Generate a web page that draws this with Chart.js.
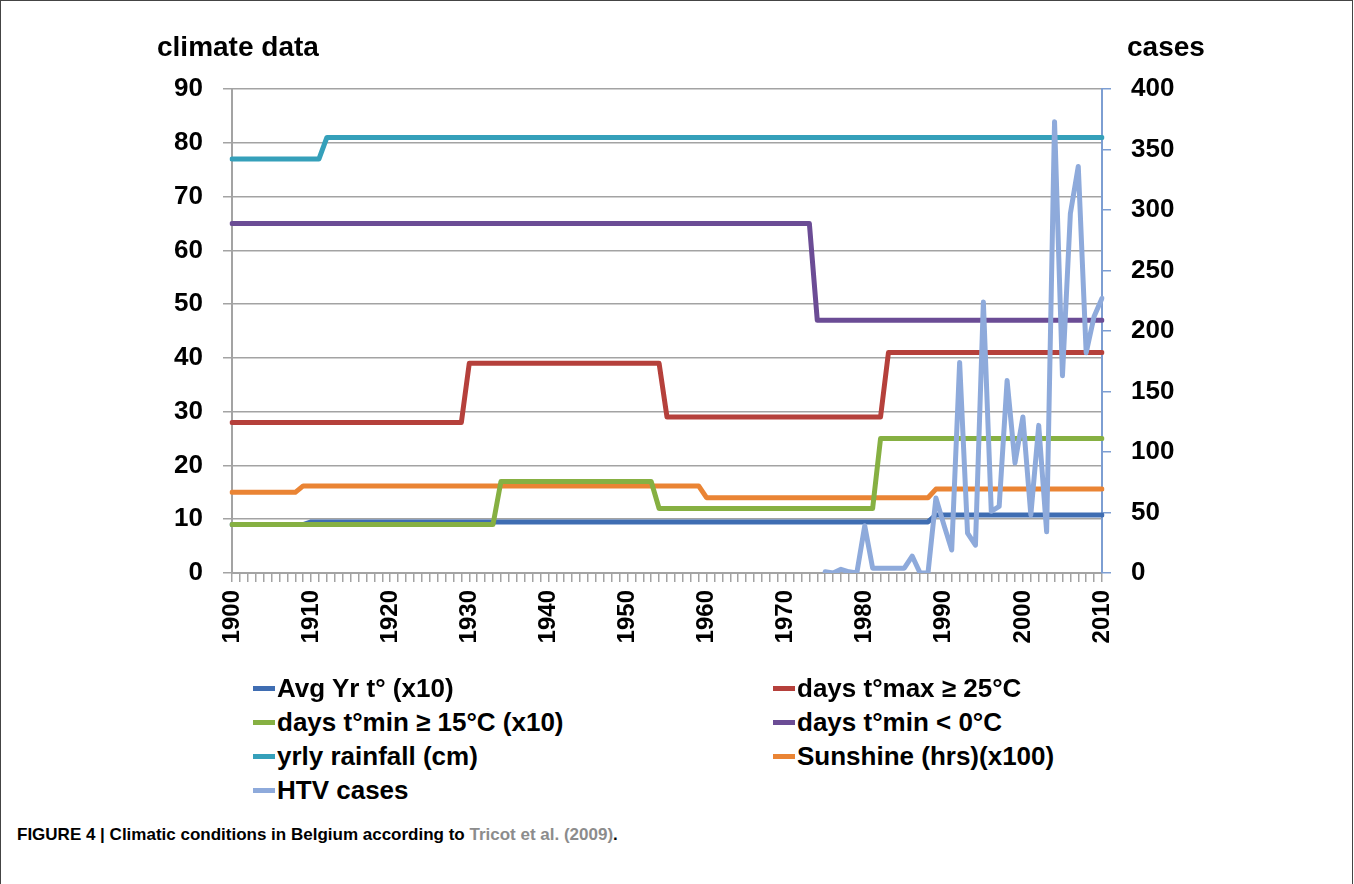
<!DOCTYPE html>
<html lang="en">
<head>
    <meta charset="UTF-8">
    <title>Climatic conditions in Belgium</title>
    <style>
        body {
            margin: 0;
            width: 1354px;
            height: 884px;
            overflow: hidden;
            background: white;
            font-family: Arial, "Liberation Sans", sans-serif;
            position: relative;
        }

        #frame {
            position: absolute;
            left: 0;
            top: 0;
            width: 1351px;
            height: 884px;
            border-left: 1px solid #444;
            border-top: 1px solid #444;
            border-right: 1px solid #444;
        }

        #chart {
            position: absolute;
            left: 0;
            top: 0;
        }

        .axis-title {
            position: absolute;
            top: 31px;
            font-size: 28px;
            font-weight: bold;
            color: #000;
        }

        .legend-item {
            position: absolute;
            font-size: 26px;
            font-weight: bold;
            line-height: 30px;
            white-space: nowrap;
            display: flex;
            align-items: center;
        }

        .legend-item span.swatch {
            display: inline-block;
            width: 22px;
            height: 5px;
            margin-right: 2px;
        }

        #caption {
            position: absolute;
            left: 17px;
            top: 825px;
            font-size: 17px;
            font-weight: bold;
            white-space: nowrap;
        }

        #caption .ref {
            color: #8c8c8c;
        }
    </style>
</head>
<body>
    <div id="frame"></div>
    <canvas id="chart" width="1354" height="680"></canvas>
    <div class="axis-title" style="left:157px">climate data</div>
    <div class="axis-title" style="left:1127px">cases</div>
    <div id="legend"></div>
    <div id="caption">FIGURE 4 | Climatic conditions in Belgium according to <span class="ref">Tricot et al. (2009)</span>.</div>

    <script src="https://cdn.jsdelivr.net/npm/chart.js"></script>
    <script>
        const years = Array.from({ length: 111 }, (_, i) => 1900 + i);

        // one row per decade, last row 2000-2010
        const avgTemp = [
            9, 9, 9, 9, 9, 9, 9, 9, 9, 9,
            9.5, 9.5, 9.5, 9.5, 9.5, 9.5, 9.5, 9.5, 9.5, 9.5,
            9.5, 9.5, 9.5, 9.5, 9.5, 9.5, 9.5, 9.5, 9.5, 9.5,
            9.5, 9.5, 9.5, 9.5, 9.5, 9.5, 9.5, 9.5, 9.5, 9.5,
            9.5, 9.5, 9.5, 9.5, 9.5, 9.5, 9.5, 9.5, 9.5, 9.5,
            9.5, 9.5, 9.5, 9.5, 9.5, 9.5, 9.5, 9.5, 9.5, 9.5,
            9.5, 9.5, 9.5, 9.5, 9.5, 9.5, 9.5, 9.5, 9.5, 9.5,
            9.5, 9.5, 9.5, 9.5, 9.5, 9.5, 9.5, 9.5, 9.5, 9.5,
            9.5, 9.5, 9.5, 9.5, 9.5, 9.5, 9.5, 9.5, 9.5, 10.8,
            10.8, 10.8, 10.8, 10.8, 10.8, 10.8, 10.8, 10.8, 10.8, 10.8,
            10.8, 10.8, 10.8, 10.8, 10.8, 10.8, 10.8, 10.8, 10.8, 10.8, 10.8
        ];

        const hotDays = [
            28, 28, 28, 28, 28, 28, 28, 28, 28, 28,
            28, 28, 28, 28, 28, 28, 28, 28, 28, 28,
            28, 28, 28, 28, 28, 28, 28, 28, 28, 28,
            39, 39, 39, 39, 39, 39, 39, 39, 39, 39,
            39, 39, 39, 39, 39, 39, 39, 39, 39, 39,
            39, 39, 39, 39, 39, 29, 29, 29, 29, 29,
            29, 29, 29, 29, 29, 29, 29, 29, 29, 29,
            29, 29, 29, 29, 29, 29, 29, 29, 29, 29,
            29, 29, 29, 41, 41, 41, 41, 41, 41, 41,
            41, 41, 41, 41, 41, 41, 41, 41, 41, 41,
            41, 41, 41, 41, 41, 41, 41, 41, 41, 41, 41
        ];

        const warmNights = [
            9, 9, 9, 9, 9, 9, 9, 9, 9, 9,
            9, 9, 9, 9, 9, 9, 9, 9, 9, 9,
            9, 9, 9, 9, 9, 9, 9, 9, 9, 9,
            9, 9, 9, 9, 17, 17, 17, 17, 17, 17,
            17, 17, 17, 17, 17, 17, 17, 17, 17, 17,
            17, 17, 17, 17, 12, 12, 12, 12, 12, 12,
            12, 12, 12, 12, 12, 12, 12, 12, 12, 12,
            12, 12, 12, 12, 12, 12, 12, 12, 12, 12,
            12, 12, 25, 25, 25, 25, 25, 25, 25, 25,
            25, 25, 25, 25, 25, 25, 25, 25, 25, 25,
            25, 25, 25, 25, 25, 25, 25, 25, 25, 25, 25
        ];

        const frostDays = [
            65, 65, 65, 65, 65, 65, 65, 65, 65, 65,
            65, 65, 65, 65, 65, 65, 65, 65, 65, 65,
            65, 65, 65, 65, 65, 65, 65, 65, 65, 65,
            65, 65, 65, 65, 65, 65, 65, 65, 65, 65,
            65, 65, 65, 65, 65, 65, 65, 65, 65, 65,
            65, 65, 65, 65, 65, 65, 65, 65, 65, 65,
            65, 65, 65, 65, 65, 65, 65, 65, 65, 65,
            65, 65, 65, 65, 47, 47, 47, 47, 47, 47,
            47, 47, 47, 47, 47, 47, 47, 47, 47, 47,
            47, 47, 47, 47, 47, 47, 47, 47, 47, 47,
            47, 47, 47, 47, 47, 47, 47, 47, 47, 47, 47
        ];

        const rainfall = [
            77, 77, 77, 77, 77, 77, 77, 77, 77, 77,
            77, 77, 81, 81, 81, 81, 81, 81, 81, 81,
            81, 81, 81, 81, 81, 81, 81, 81, 81, 81,
            81, 81, 81, 81, 81, 81, 81, 81, 81, 81,
            81, 81, 81, 81, 81, 81, 81, 81, 81, 81,
            81, 81, 81, 81, 81, 81, 81, 81, 81, 81,
            81, 81, 81, 81, 81, 81, 81, 81, 81, 81,
            81, 81, 81, 81, 81, 81, 81, 81, 81, 81,
            81, 81, 81, 81, 81, 81, 81, 81, 81, 81,
            81, 81, 81, 81, 81, 81, 81, 81, 81, 81,
            81, 81, 81, 81, 81, 81, 81, 81, 81, 81, 81
        ];

        const sunshine = [
            15, 15, 15, 15, 15, 15, 15, 15, 15, 16.2,
            16.2, 16.2, 16.2, 16.2, 16.2, 16.2, 16.2, 16.2, 16.2, 16.2,
            16.2, 16.2, 16.2, 16.2, 16.2, 16.2, 16.2, 16.2, 16.2, 16.2,
            16.2, 16.2, 16.2, 16.2, 16.2, 16.2, 16.2, 16.2, 16.2, 16.2,
            16.2, 16.2, 16.2, 16.2, 16.2, 16.2, 16.2, 16.2, 16.2, 16.2,
            16.2, 16.2, 16.2, 16.2, 16.2, 16.2, 16.2, 16.2, 16.2, 16.2,
            14, 14, 14, 14, 14, 14, 14, 14, 14, 14,
            14, 14, 14, 14, 14, 14, 14, 14, 14, 14,
            14, 14, 14, 14, 14, 14, 14, 14, 14, 15.6,
            15.6, 15.6, 15.6, 15.6, 15.6, 15.6, 15.6, 15.6, 15.6, 15.6,
            15.6, 15.6, 15.6, 15.6, 15.6, 15.6, 15.6, 15.6, 15.6, 15.6, 15.6
        ];

        // HTV cases, only reported from 1975
        const htvYears = [
            1975, 1976, 1977, 1978, 1979, 1980, 1981, 1982, 1983, 1984,
            1985, 1986, 1987, 1988, 1989, 1990, 1991, 1992, 1993, 1994,
            1995, 1996, 1997, 1998, 1999, 2000, 2001, 2002, 2003, 2004,
            2005, 2006, 2007, 2008, 2009, 2010
        ];
        const htvCases = [
            1, 0, 3, 1, 0, 39, 4, 4, 4, 4,
            4, 14, 0, 0, 62, 40, 19, 174, 33, 23,
            224, 51, 55, 159, 91, 129, 48, 122, 34, 373,
            163, 297, 336, 182, 212, 227
        ];

        const leftTicks = [0, 10, 20, 30, 40, 50, 60, 70, 80, 90];
        const rightTicks = [0, 50, 100, 150, 200, 250, 300, 350, 400];

        const series = [
            { label: 'Avg Yr t° (x10)', data: avgTemp, color: '#3f6db2', order: 6, col: 0, row: 0 },
            { label: 'days t°max ≥ 25°C', data: hotDays, color: '#b5403b', order: 2, col: 1, row: 0 },
            { label: 'days t°min ≥ 15°C (x10)', data: warmNights, color: '#86b042', order: 1, col: 0, row: 1 },
            { label: 'days t°min < 0°C', data: frostDays, color: '#6b4c95', order: 3, col: 1, row: 1 },
            { label: 'yrly rainfall (cm)', data: rainfall, color: '#35a0ba', order: 4, col: 0, row: 2 },
            { label: 'Sunshine (hrs)(x100)', data: sunshine, color: '#ea8434', order: 5, col: 1, row: 2 }
        ];

        const htvData = years.map(y => {
            const i = htvYears.indexOf(y);
            return i < 0 ? null : htvCases[i];
        });

        const datasets = series.map(s => ({
            label: s.label,
            data: s.data,
            borderColor: s.color,
            backgroundColor: s.color,
            order: s.order,
            yAxisID: 'y'
        }));
        datasets.push({
            label: 'HTV cases',
            data: htvData,
            borderColor: '#8eaadb',
            backgroundColor: '#8eaadb',
            order: 0,
            yAxisID: 'y1'
        });

        // legend as html, two columns like the original
        const legend = document.getElementById('legend');
        const legendItems = series.concat([{ label: 'HTV cases', color: '#8eaadb', col: 0, row: 3 }]);
        legendItems.forEach(item => {
            const div = document.createElement('div');
            div.className = 'legend-item';
            div.style.left = (item.col === 0 ? 253 : 773) + 'px';
            div.style.top = (673 + item.row * 34) + 'px';
            const sw = document.createElement('span');
            sw.className = 'swatch';
            sw.style.background = item.color;
            div.appendChild(sw);
            div.appendChild(document.createTextNode(item.label));
            legend.appendChild(div);
        });

        const tickFont = { family: 'Arial, "Liberation Sans", sans-serif', size: 26, weight: 'bold' };
        const gridGray = '#a3a3a3';
        const axisBlue = '#7d9ed2';

        new Chart(document.getElementById('chart'), {
            type: 'line',
            data: { labels: years, datasets: datasets },
            options: {
                responsive: false,
                animation: false,
                layout: { padding: { top: 89, left: 0, right: 0, bottom: 0 } },
                plugins: {
                    legend: { display: false },
                    tooltip: { enabled: false }
                },
                elements: {
                    point: { radius: 0 },
                    line: { borderWidth: 5, tension: 0, borderJoinStyle: 'round', borderCapStyle: 'round' }
                },
                scales: {
                    x: {
                        type: 'category',
                        offset: false,
                        grid: { drawOnChartArea: false, drawTicks: true, tickLength: 9, color: gridGray, lineWidth: 1.5 },
                        border: { color: gridGray, width: 2 },
                        ticks: {
                            autoSkip: false,
                            minRotation: 90,
                            maxRotation: 90,
                            padding: 8,
                            color: '#000',
                            font: { family: tickFont.family, size: 24, weight: 'bold' },
                            callback: (v, i) => years[i] % 10 === 0 ? String(years[i]) : ''
                        },
                        afterFit: s => { s.height = 107; }
                    },
                    y: {
                        position: 'left',
                        min: 0,
                        max: 90,
                        afterBuildTicks: s => { s.ticks = leftTicks.map(v => ({ value: v })); },
                        grid: { color: gridGray, lineWidth: 1.5, tickLength: 9 },
                        border: { color: gridGray, width: 2 },
                        ticks: { padding: 20, color: '#000', font: tickFont },
                        afterFit: s => { s.width = 232; }
                    },
                    y1: {
                        position: 'right',
                        min: 0,
                        max: 400,
                        afterBuildTicks: s => { s.ticks = rightTicks.map(v => ({ value: v })); },
                        grid: { drawOnChartArea: false, color: axisBlue, lineWidth: 1.5, tickLength: 9 },
                        border: { color: axisBlue, width: 2 },
                        ticks: { padding: 20, color: '#000', font: tickFont },
                        afterFit: s => { s.width = 252; }
                    }
                }
            }
        });
    </script>
</body>
</html>
